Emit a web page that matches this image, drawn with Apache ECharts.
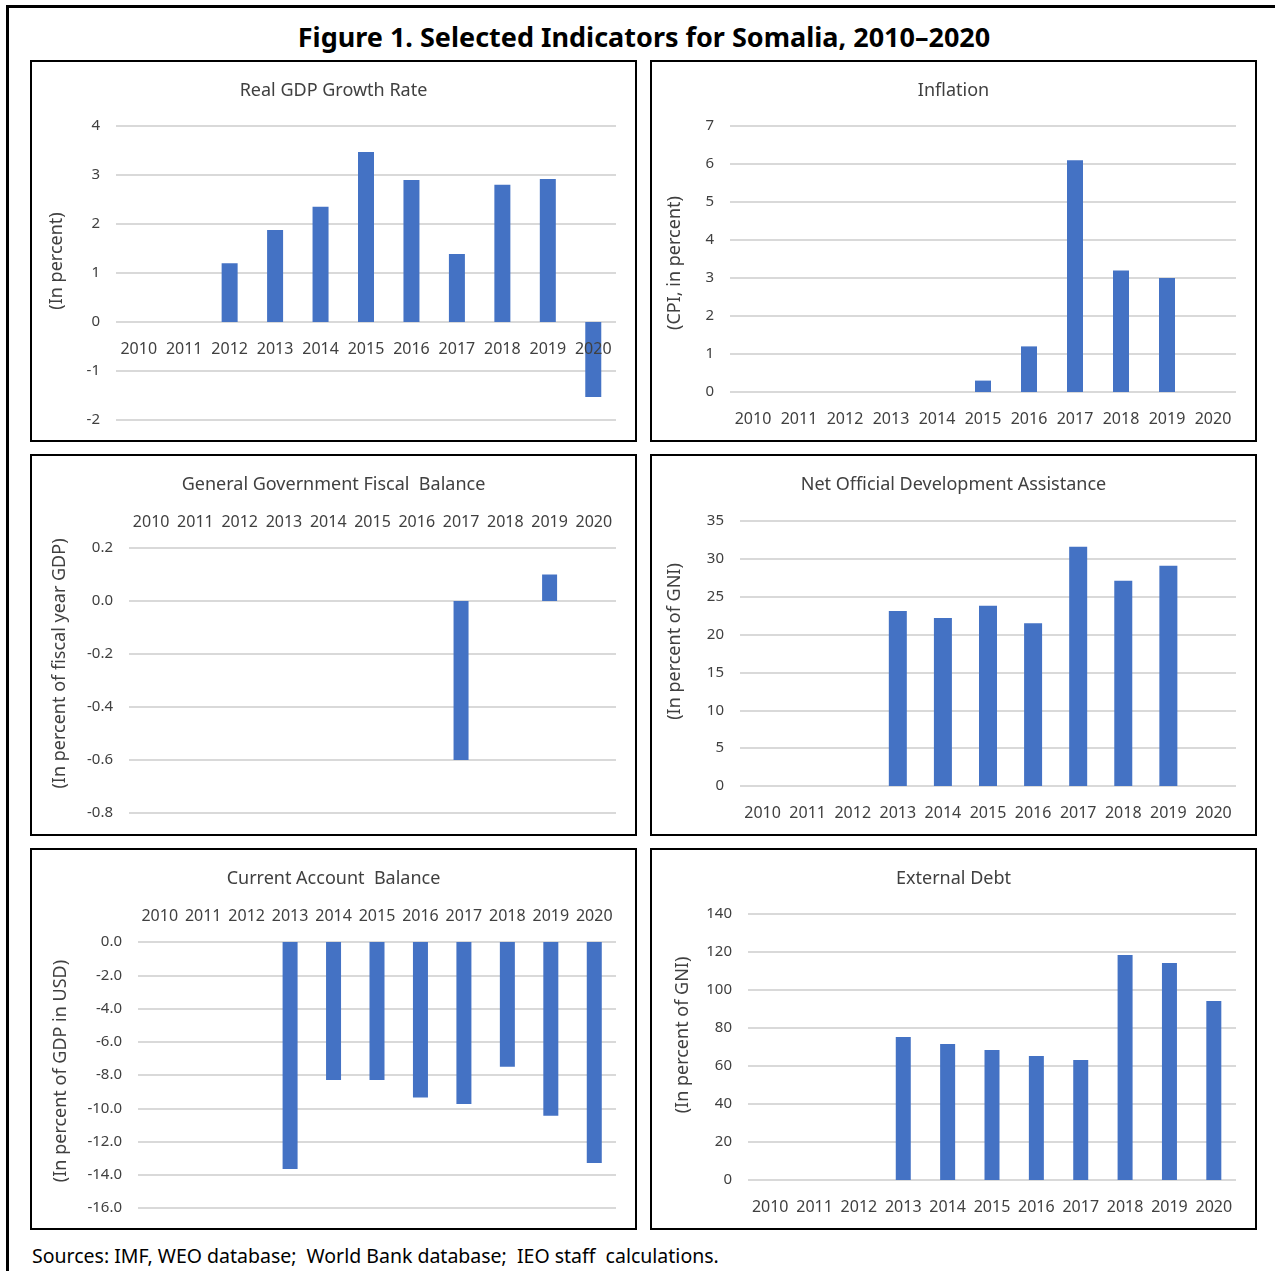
<!DOCTYPE html>
<html>
<head>
<meta charset="utf-8">
<script src="https://cdn.jsdelivr.net/npm/echarts@6/dist/echarts.min.js"></script>
<style>
  html, body { margin: 0; padding: 0; background: #fff; }
  body { width: 1275px; height: 1271px; position: relative; overflow: hidden; font-family: "Noto Sans", "Open Sans", sans-serif; }
  .frame { position: absolute; left: 6px; top: 5px; width: 1400px; height: 1400px; border: 3px solid #000; box-sizing: border-box; }
  .fig-title { position: absolute; left: 0; width: 1288px; top: 19px; text-align: center; font-size: 27px; font-weight: bold; color: #000; line-height: 36px; }
  .panel { position: absolute; width: 607px; height: 382px; }
  .panel .chart { position: absolute; left: 0; top: 0; width: 100%; height: 100%; }
  .panel .edge { position: absolute; left: 0; top: 0; width: 100%; height: 100%; border: 2px solid #000; box-sizing: border-box; pointer-events: none; }
  .sources { position: absolute; left: 32px; top: 1242px; font-size: 19.5px; color: #000; line-height: 28px; }
</style>
</head>
<body>
<div class="frame"></div>
<div class="fig-title">Figure 1. Selected Indicators for Somalia, 2010–2020</div>
<div class="panel" style="left:30px;top:60px"><div class="chart" id="c1"></div><div class="edge"></div></div>
<div class="panel" style="left:650px;top:60px"><div class="chart" id="c2"></div><div class="edge"></div></div>
<div class="panel" style="left:30px;top:454px"><div class="chart" id="c3"></div><div class="edge"></div></div>
<div class="panel" style="left:650px;top:454px"><div class="chart" id="c4"></div><div class="edge"></div></div>
<div class="panel" style="left:30px;top:848px"><div class="chart" id="c5"></div><div class="edge"></div></div>
<div class="panel" style="left:650px;top:848px"><div class="chart" id="c6"></div><div class="edge"></div></div>
<div class="sources">Sources: IMF, WEO database;&nbsp; World Bank database;&nbsp; IEO staff&nbsp; calculations.</div>

<script>
// data
const years = ['2010', '2011', '2012', '2013', '2014', '2015', '2016', '2017', '2018', '2019', '2020']
const gdpGrowth = [null, null, 1.2, 1.88, 2.35, 3.47, 2.9, 1.39, 2.8, 2.92, -1.53]
const inflation = [null, null, null, null, null, 0.3, 1.2, 6.1, 3.2, 3.0, null]
const fiscalBalance = [null, null, null, null, null, null, null, -0.6, null, 0.1, null]
const odaShare = [null, null, null, 23.1, 22.2, 23.8, 21.5, 31.6, 27.1, 29.1, null]
const currentAccount = [null, null, null, -13.65, -8.3, -8.3, -9.35, -9.75, -7.5, -10.45, -13.3]
const externalDebt = [null, null, null, 75.3, 71.6, 68.4, 65.3, 63.2, 118.4, 114.2, 94.2]

const FONT = '"Noto Sans", "Open Sans", sans-serif'
const BAR = '#4472C4'
const TXT = '#404040'
const GRIDLINE = '#d9d9d9'
const PANEL_H = 382

function makeChart (id, cfg) {
  const chart = echarts.init(document.getElementById(id), null, { renderer: 'canvas' })
  const grid = Object.assign({ outerBoundsMode: 'none', containLabel: false }, cfg.grid)
  // category labels sit on the zero line when the value range crosses zero
  let xOffset = 0
  if (!cfg.xTop && cfg.min < 0) {
    const plotH = PANEL_H - cfg.grid.top - cfg.grid.bottom
    xOffset = -plotH * (0 - cfg.min) / (cfg.max - cfg.min)
  }
  const shift = cfg.nameShift || 0
  chart.setOption({
    animation: false,
    textStyle: { fontFamily: FONT },
    title: {
      text: cfg.title,
      left: 'center',
      top: 17,
      textStyle: { fontSize: 18, fontWeight: 'normal', color: TXT, fontFamily: FONT }
    },
    grid: grid,
    xAxis: {
      type: 'category',
      data: years,
      position: cfg.xTop ? 'top' : 'bottom',
      offset: xOffset,
      z: 3,
      axisLine: { show: false, onZero: false },
      axisTick: { show: false },
      axisLabel: { color: TXT, fontSize: 16, margin: cfg.xTop ? 18 : 19, interval: 0 }
    },
    yAxis: {
      type: 'value',
      min: cfg.min,
      max: cfg.max,
      interval: cfg.interval,
      name: cfg.yName,
      nameLocation: 'middle',
      nameGap: cfg.nameGap,
      nameTextStyle: {
        fontSize: 18,
        color: TXT,
        fontFamily: FONT,
        padding: shift >= 0 ? [0, 0, 0, 2 * shift] : [0, -2 * shift, 0, 0]
      },
      axisLine: { show: false },
      axisTick: { show: false },
      axisLabel: {
        color: TXT,
        fontSize: 15,
        margin: 16,
        formatter: v => cfg.decimals ? v.toFixed(cfg.decimals) : String(v)
      },
      splitLine: { lineStyle: { color: GRIDLINE, width: 2 } }
    },
    series: [{
      type: 'bar',
      data: cfg.values,
      barWidth: cfg.barWidth,
      itemStyle: { color: BAR }
    }]
  })
}

makeChart('c1', {
  title: 'Real GDP Growth Rate', yName: '(In percent)', values: gdpGrowth,
  min: -2, max: 4, interval: 1, nameGap: 50, nameShift: 12, barWidth: 16,
  grid: { left: 86, right: 21, top: 66, bottom: 22 }
})
makeChart('c2', {
  title: 'Inflation', yName: '(CPI, in percent)', values: inflation,
  min: 0, max: 7, interval: 1, nameGap: 46, nameShift: -4, barWidth: 16,
  grid: { left: 80, right: 21, top: 66, bottom: 50 }
})
makeChart('c3', {
  title: 'General Government Fiscal  Balance', yName: '(In percent of fiscal year GDP)', values: fiscalBalance,
  min: -0.8, max: 0.2, interval: 0.2, decimals: 1, nameGap: 60, nameShift: 17, barWidth: 15, xTop: true,
  grid: { left: 99, right: 21, top: 94, bottom: 23 }
})
makeChart('c4', {
  title: 'Net Official Development Assistance', yName: '(In percent of GNI)', values: odaShare,
  min: 0, max: 35, interval: 5, nameGap: 56, nameShift: 12, barWidth: 18,
  grid: { left: 90, right: 21, top: 67, bottom: 50 }
})
makeChart('c5', {
  title: 'Current Account  Balance', yName: '(In percent of GDP in USD)', values: currentAccount,
  min: -16, max: 0, interval: 2, decimals: 1, nameGap: 68, nameShift: 4, barWidth: 15, xTop: true,
  grid: { left: 108, right: 21, top: 94, bottom: 22 }
})
makeChart('c6', {
  title: 'External Debt', yName: '(In percent of GNI)', values: externalDebt,
  min: 0, max: 140, interval: 20, nameGap: 56, nameShift: 12, barWidth: 15,
  grid: { left: 98, right: 21, top: 66, bottom: 50 }
})
</script>
</body>
</html>
